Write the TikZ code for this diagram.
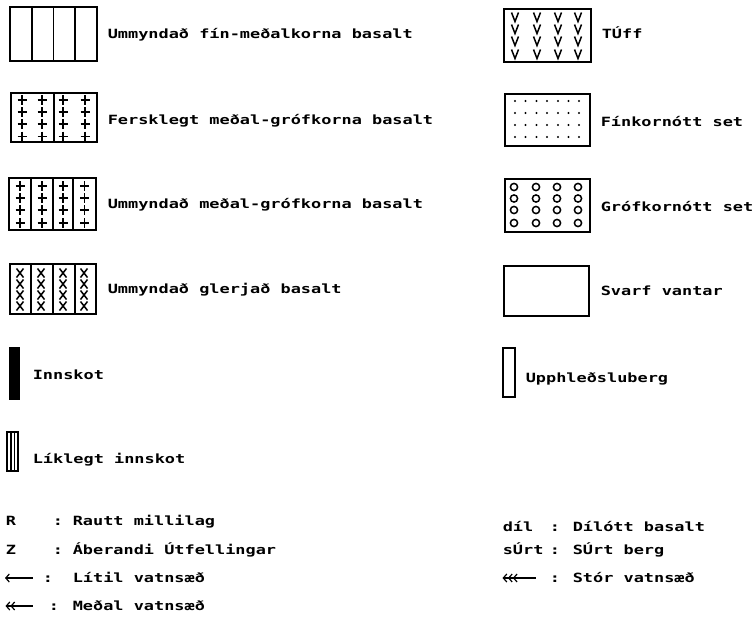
\documentclass[tikz,border=0pt]{standalone}
\usepackage{fontspec}
\newfontfamily\dmfont[FakeStretch=1.33]{DejaVu Sans Mono}
\usetikzlibrary{arrows.meta}
\begin{document}
\begin{tikzpicture}[x=1pt,y=-1pt,line width=1.5pt,
  lbl/.style={anchor=base west,inner sep=0pt,font=\dmfont\bfseries\fontsize{12.7}{14}\selectfont},
  frm/.style={draw,line width=1.6pt},
  pat/.style={line width=1.5pt},
  barb/.style={line width=1.3pt},
  tip/.tip={Straight Barb[length=3.5pt,width=8pt,line width=1.2pt]}]
\useasboundingbox[fill=white] (0,0) rectangle (755,618);

% ---------- left column ----------
% 1 fine-medium altered basalt
\draw[frm] (10,7) rectangle (97,61);
\draw[frm] (32,7)--(32,61) (53.5,7)--(53.5,61) (75,7)--(75,61);
\node[lbl] (t1) at (107,38.5) {Ummyndað fín-meðalkorna basalt};

% 2 fresh medium-coarse
\draw[frm] (11,93) rectangle (97,142);
\draw[frm] (54,93)--(54,142);
\foreach \x in {22,42,63,85}
  \foreach \y in {100,112,124,136.5}
    \draw[pat] (\x-4.5,\y)--(\x+4.5,\y) (\x,\y-5)--(\x,\y+5);
\node[lbl] (t2) at (107,124) {Fersklegt meðal-grófkorna basalt};

% 3 altered medium-coarse
\draw[frm] (9,178) rectangle (96,230);
\draw[frm] (31,178)--(31,230) (53,178)--(53,230) (73,178)--(73,230);
\foreach \x in {20,42,63,84.5}
  \foreach \y in {186,198,210,223}
    \draw[pat] (\x-4.5,\y)--(\x+4.5,\y) (\x,\y-5)--(\x,\y+5);
\node[lbl] (t3) at (107,208) {Ummyndað meðal-grófkorna basalt};

% 4 altered glassy
\draw[frm] (10,264) rectangle (96,314);
\draw[frm] (31,264)--(31,314) (53,264)--(53,314) (75,264)--(75,314);
\foreach \x in {20,41,63,84}
  \foreach \y in {273,284,295,306}
    \draw[pat] (\x-3.5,\y-4.5)--(\x+3.5,\y+4.5) (\x-3.5,\y+4.5)--(\x+3.5,\y-4.5);
\node[lbl] (t4) at (107,293) {Ummyndað glerjað basalt};

% intrusion
\fill (9,347) rectangle (20,400);
\node[lbl] (t5) at (32,379) {Innskot};

% probable intrusion
\draw[line width=1.2pt] (7,432) rectangle (18,471);
\draw[line width=1.1pt] (11,432)--(11,471) (14.5,432)--(14.5,471);
\node[lbl] (t6) at (32,463) {Líklegt innskot};

% bottom-left key
\node[lbl] (kR) at (5,525) {R};
\node[lbl] (cR) at (52,525) {:};
\node[lbl] (dR) at (72,525) {Rautt millilag};
\node[lbl] (kZ) at (5,554) {Z};
\node[lbl] (cZ) at (52,554) {:};
\node[lbl] (dZ) at (72,554) {Áberandi Útfellingar};

\coordinate (a1s) at (5,578);   \coordinate (a1e) at (33,578);
\draw[barb,{tip}-] (a1s) -- (a1e);
\node[lbl] (c1) at (42,582) {:};
\node[lbl] (d1) at (72,582) {Lítil vatnsæð};

\coordinate (a2s) at (5,606);   \coordinate (a2e) at (33,606);
\draw[barb,{tip[sep=0.5pt]tip}-] (a2s) -- (a2e);
\node[lbl] (c2) at (48,610) {:};
\node[lbl] (d2) at (72,610) {Meðal vatnsæð};

% ---------- right column ----------
% tuff
\draw[frm] (504,9) rectangle (591,62);
\foreach \x in {515,537,558,578}
  \foreach \y in {17,29,41,54}
    \draw[pat] (\x-3.5,\y-4.5)--(\x,\y+4.5)--(\x+3.5,\y-4.5);
\node[lbl] (r1) at (601,38.5) {TÚff};

% fine sediment
\draw[frm] (505,94) rectangle (590,146);
\foreach \x in {515,525.5,536.5,547,558,568.5,579}
  \foreach \y in {101,113,125,137}
    \fill (\x,\y) circle (1.2pt);
\node[lbl] (r2) at (600,126) {Fínkornótt set};

% coarse sediment
\draw[frm] (505,179) rectangle (590,232);
\foreach \x in {514,536,557,578}
  \foreach \y in {187,198.5,210,223}
    \draw[pat] (\x,\y) circle (3.6pt);
\node[lbl] (r3) at (600,211) {Grófkornótt set};

% no cuttings
\draw[frm] (504,266) rectangle (589,316);
\node[lbl] (r4) at (600,295) {Svarf vantar};

% pile breccia
\draw[line width=1.3pt] (503,348) rectangle (515,397);
\node[lbl] (r5) at (525,382) {Upphleðsluberg};

% bottom-right key
\node[lbl] (kd) at (502,531) {díl};
\node[lbl] (cd) at (549,531) {:};
\node[lbl] (dd) at (572,531) {Dílótt basalt};
\node[lbl] (ks) at (502,554) {sÚrt};
\node[lbl] (cs) at (549,554) {:};
\node[lbl] (ds) at (572,554) {SÚrt berg};

\coordinate (a3s) at (502,578); \coordinate (a3e) at (536,578);
\draw[barb,{tip[sep=0.5pt]tip[sep=0.5pt]tip}-] (a3s) -- (a3e);
\node[lbl] (c3) at (549,582) {:};
\node[lbl] (d3) at (572,582) {Stór vatnsæð};
\end{tikzpicture}
\end{document}
